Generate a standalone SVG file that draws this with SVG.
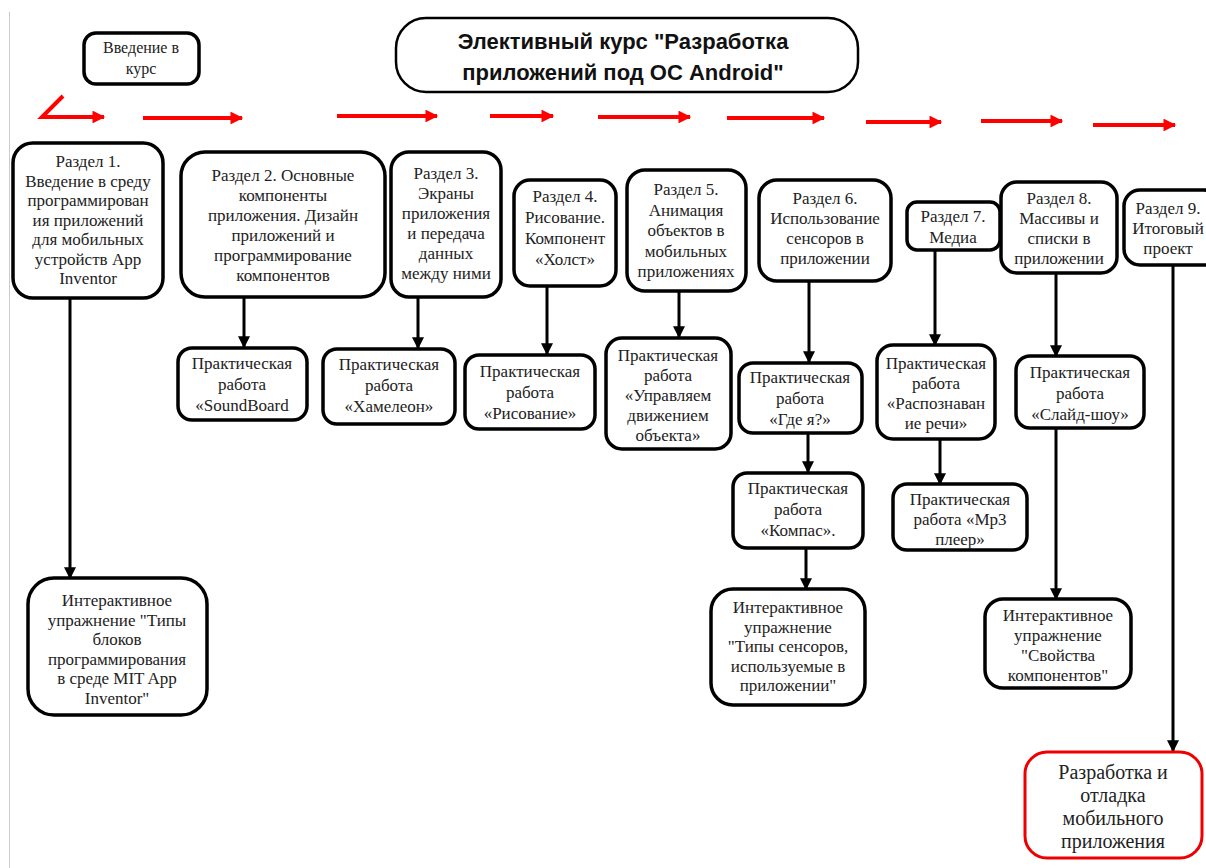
<svg xmlns="http://www.w3.org/2000/svg" width="1206" height="868" viewBox="0 0 1206 868">
<defs>
<marker id="ab" viewBox="0 0 10 10" refX="9" refY="5" markerWidth="4" markerHeight="4" orient="auto" markerUnits="strokeWidth"><path d="M0,0 L10,5 L0,10 z" fill="#000"/></marker>
<marker id="ar" viewBox="0 0 10 10" refX="9" refY="5" markerWidth="3.4" markerHeight="3.2" orient="auto" markerUnits="strokeWidth"><path d="M0,0 L10,5 L0,10 z" fill="#f00"/></marker>
<style>
.b{fill:#fff;stroke:#000;stroke-width:3.5}
.r{fill:#fff;stroke:#e00;stroke-width:3}
.t{font-family:"Liberation Serif","Times New Roman",serif;font-size:17px;fill:#222;text-anchor:middle}
.h{font-family:"Liberation Sans",Arial,sans-serif;font-weight:bold;font-size:22px;fill:#111;text-anchor:middle}
.c{stroke:#000;stroke-width:3;fill:none;marker-end:url(#ab)}
.rc{stroke:#f00;stroke-width:4;fill:none;marker-end:url(#ar)}
</style>
</defs>
<rect width="1206" height="868" fill="#fff"/>
<line x1="9.5" y1="12" x2="9.5" y2="868" stroke="#ccc" stroke-width="1"/>

<g id="connectors">
<path class="rc" d="M63,96 L42,117 L104,117"/>
<path class="rc" d="M143,118 L242,118"/>
<path class="rc" d="M337,116 L437,116"/>
<path class="rc" d="M490,116 L553,116"/>
<path class="rc" d="M598,117 L690,117"/>
<path class="rc" d="M727,118 L824,118"/>
<path class="rc" d="M866,122 L941,122"/>
<path class="rc" d="M981,121 L1062,121"/>
<path class="rc" d="M1093,125 L1175,125"/>
<path class="c" d="M70,298 V578"/>
<path class="c" d="M244,297 V347"/>
<path class="c" d="M418,297 V348"/>
<path class="c" d="M547,286 V354"/>
<path class="c" d="M679,291 V337"/>
<path class="c" d="M809,281 V362"/>
<path class="c" d="M808,433 V472"/>
<path class="c" d="M806,548 V589"/>
<path class="c" d="M935,250 V345"/>
<path class="c" d="M940,439 V484"/>
<path class="c" d="M1056,273 V356"/>
<path class="c" d="M1056,428 V599"/>
<path class="c" d="M1173,265 V751"/>
</g>

<g id="intro">
<rect class="b" x="84" y="33" width="115" height="51" rx="12"/>
<text class="t" x="141" y="53" style="font-size:16px">Введение в<tspan x="141" dy="21">курс</tspan></text>
</g>

<g id="title">
<rect x="396" y="18" width="462" height="74" rx="30" fill="#fff" stroke="#000" stroke-width="2.5"/>
<text class="h" x="623" y="49">Элективный курс "Разработка<tspan x="623" dy="31">приложений под ОС Android"</tspan></text>
</g>

<g id="s1">
<rect class="b" x="13" y="143" width="150" height="155" rx="20"/>
<text class="t" x="88" y="167">Раздел 1.<tspan x="88" dy="19.5">Введение в среду</tspan><tspan x="88" dy="19.5">программирован</tspan><tspan x="88" dy="19.5">ия приложений</tspan><tspan x="88" dy="19.5">для мобильных</tspan><tspan x="88" dy="19.5">устройств App</tspan><tspan x="88" dy="19.5">Inventor</tspan></text>
</g>
<g id="s2">
<rect class="b" x="181" y="152" width="204" height="145" rx="24"/>
<text class="t" x="283" y="181">Раздел 2. Основные<tspan x="283" dy="20">компоненты</tspan><tspan x="283" dy="20">приложения. Дизайн</tspan><tspan x="283" dy="20">приложений и</tspan><tspan x="283" dy="20">программирование</tspan><tspan x="283" dy="20">компонентов</tspan></text>
</g>
<g id="s3">
<rect class="b" x="391" y="152" width="110" height="145" rx="18"/>
<text class="t" x="446" y="179">Раздел 3.<tspan x="446" dy="20">Экраны</tspan><tspan x="446" dy="20">приложения</tspan><tspan x="446" dy="20">и передача</tspan><tspan x="446" dy="20">данных</tspan><tspan x="446" dy="20">между ними</tspan></text>
</g>
<g id="s4">
<rect class="b" x="514" y="180" width="102" height="106" rx="16"/>
<text class="t" x="565" y="202">Раздел 4.<tspan x="565" dy="21">Рисование.</tspan><tspan x="565" dy="21">Компонент</tspan><tspan x="565" dy="21">«Холст»</tspan></text>
</g>
<g id="s5">
<rect class="b" x="627" y="170" width="119" height="121" rx="18"/>
<text class="t" x="686" y="195">Раздел 5.<tspan x="686" dy="20.5">Анимация</tspan><tspan x="686" dy="20.5">объектов в</tspan><tspan x="686" dy="20.5">мобильных</tspan><tspan x="686" dy="20.5">приложениях</tspan></text>
</g>
<g id="s6">
<rect class="b" x="759" y="180" width="132" height="101" rx="18"/>
<text class="t" x="825" y="204">Раздел 6.<tspan x="825" dy="20">Использование</tspan><tspan x="825" dy="20">сенсоров в</tspan><tspan x="825" dy="20">приложении</tspan></text>
</g>
<g id="s7">
<rect class="b" x="907" y="202" width="93" height="48" rx="10"/>
<text class="t" x="953" y="222">Раздел 7.<tspan x="953" dy="21">Медиа</tspan></text>
</g>
<g id="s8">
<rect class="b" x="1001" y="182" width="116" height="91" rx="16"/>
<text class="t" x="1059" y="204">Раздел 8.<tspan x="1059" dy="20">Массивы и</tspan><tspan x="1059" dy="20">списки в</tspan><tspan x="1059" dy="20">приложении</tspan></text>
</g>
<g id="s9">
<rect class="b" x="1124" y="190" width="96" height="75" rx="16"/>
<text class="t" x="1168" y="214">Раздел 9.<tspan x="1168" dy="20">Итоговый</tspan><tspan x="1168" dy="20">проект</tspan></text>
</g>

<g id="p2">
<rect class="b" x="178" y="348" width="129" height="72" rx="14"/>
<text class="t" x="242" y="369">Практическая<tspan x="242" dy="21">работа</tspan><tspan x="242" dy="21">«SoundBoard</tspan></text>
</g>
<g id="p3">
<rect class="b" x="323" y="349" width="132" height="75" rx="14"/>
<text class="t" x="389" y="370">Практическая<tspan x="389" dy="21">работа</tspan><tspan x="389" dy="21">«Хамелеон»</tspan></text>
</g>
<g id="p4">
<rect class="b" x="465" y="355" width="130" height="74" rx="14"/>
<text class="t" x="530" y="377">Практическая<tspan x="530" dy="21">работа</tspan><tspan x="530" dy="21">«Рисование»</tspan></text>
</g>
<g id="p5">
<rect class="b" x="606" y="338" width="125" height="111" rx="16"/>
<text class="t" x="668" y="361">Практическая<tspan x="668" dy="20">работа</tspan><tspan x="668" dy="20">«Управляем</tspan><tspan x="668" dy="20">движением</tspan><tspan x="668" dy="20">объекта»</tspan></text>
</g>
<g id="p6">
<rect class="b" x="739" y="363" width="123" height="70" rx="14"/>
<text class="t" x="800" y="383">Практическая<tspan x="800" dy="21">работа</tspan><tspan x="800" dy="21">«Где я?»</tspan></text>
</g>
<g id="p6b">
<rect class="b" x="733" y="473" width="130" height="75" rx="14"/>
<text class="t" x="798" y="494">Практическая<tspan x="798" dy="21">работа</tspan><tspan x="798" dy="21">«Компас».</tspan></text>
</g>
<g id="p7">
<rect class="b" x="877" y="345" width="118" height="94" rx="16"/>
<text class="t" x="936" y="369">Практическая<tspan x="936" dy="20">работа</tspan><tspan x="936" dy="20">«Распознаван</tspan><tspan x="936" dy="20">ие речи»</tspan></text>
</g>
<g id="p7b">
<rect class="b" x="893" y="484" width="134" height="66" rx="14"/>
<text class="t" x="960" y="505">Практическая<tspan x="960" dy="20">работа «Mp3</tspan><tspan x="960" dy="20">плеер»</tspan></text>
</g>
<g id="p8">
<rect class="b" x="1016" y="356" width="128" height="72" rx="14"/>
<text class="t" x="1080" y="378">Практическая<tspan x="1080" dy="21">работа</tspan><tspan x="1080" dy="21">«Слайд-шоу»</tspan></text>
</g>

<g id="i1">
<rect class="b" x="28" y="578" width="179" height="137" rx="26"/>
<text class="t" x="117" y="606">Интерактивное<tspan x="117" dy="19.5">упражнение "Типы</tspan><tspan x="117" dy="19.5">блоков</tspan><tspan x="117" dy="19.5">программирования</tspan><tspan x="117" dy="19.5">в среде MIT App</tspan><tspan x="117" dy="19.5">Inventor"</tspan></text>
</g>
<g id="i6">
<rect class="b" x="711" y="589" width="154" height="116" rx="22"/>
<text class="t" x="788" y="613">Интерактивное<tspan x="788" dy="19.5">упражнение</tspan><tspan x="788" dy="19.5">"Типы сенсоров,</tspan><tspan x="788" dy="19.5">используемые в</tspan><tspan x="788" dy="19.5">приложении"</tspan></text>
</g>
<g id="i8">
<rect class="b" x="985" y="599" width="146" height="89" rx="18"/>
<text class="t" x="1058" y="621">Интерактивное<tspan x="1058" dy="20">упражнение</tspan><tspan x="1058" dy="20">"Свойства</tspan><tspan x="1058" dy="20">компонентов"</tspan></text>
</g>
<g id="final">
<rect class="r" x="1025" y="752" width="177" height="106" rx="22"/>
<text class="t" x="1113" y="779" style="font-size:20px">Разработка и<tspan x="1113" dy="23">отладка</tspan><tspan x="1113" dy="23">мобильного</tspan><tspan x="1113" dy="23">приложения</tspan></text>
</g>
</svg>
